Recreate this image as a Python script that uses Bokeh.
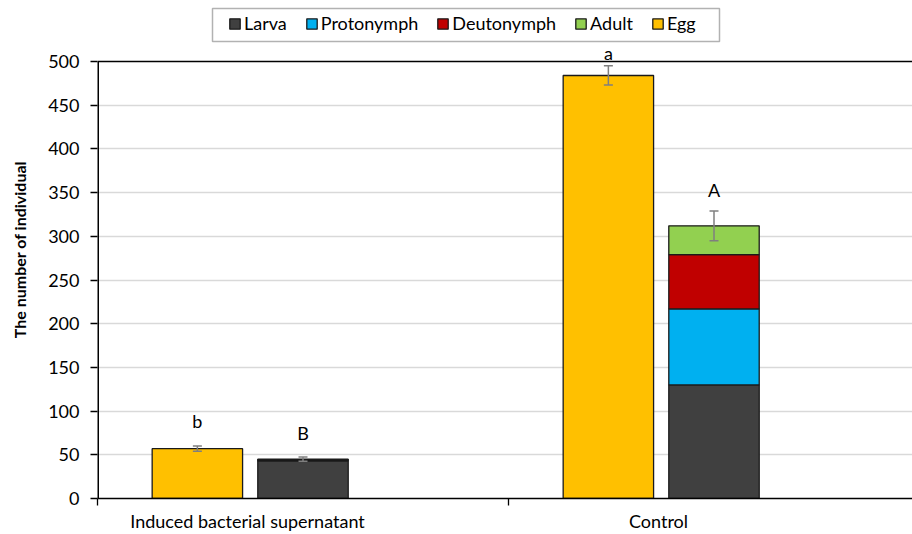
from bokeh.plotting import figure
from bokeh.models import (ColumnDataSource, Whisker, Label, Legend, LegendItem,
                          FixedTicker, Span, Range1d, BoxAnnotation)
from bokeh.embed import file_html
from bokeh.resources import INLINE

# ---- data ----
categories = ["Induced bacterial supernatant", "Control"]
egg = [57, 484]
egg_err = [3, 11]
larva = [43, 130]
protonymph = [1, 87]
deutonymph = [0.5, 62]
adult = [0.5, 33]
stage_err = [2.5, 17]
egg_letters = ["b", "a"]
stage_letters = ["B", "A"]
y_ticks = [0, 50, 100, 150, 200, 250, 300, 350, 400, 450, 500]
y_max = 500

# ---- style / layout ----
FONT = "Lato"
FS = "18px"
C_EGG = "#FFC000"
C_LARVA = "#404040"
C_PROTO = "#00B0F0"
C_DEUTO = "#C00000"
C_ADULT = "#92D050"
egg_letter_off = [25, 13]
stage_letter_off = [24, 21]

FRAME_L, FRAME_B, FRAME_W = 97, 498, 815      # frame pixel geometry
PX_PER_CAT = 411.0
PX_PER_Y = 437.0 / y_max
X_END = FRAME_W / PX_PER_CAT
Y_END = FRAME_B / PX_PER_Y

def px_to_x(px):
    return (px - FRAME_L) / PX_PER_CAT

def px_to_y(py):
    return (FRAME_B - py) / PX_PER_Y

idx = list(range(len(categories)))
egg_x = [i + 0.243 for i in idx]
stage_x = [i + 0.5 for i in idx]
label_x = [i + 0.365 for i in idx]
W = 0.22

p = figure(width=912, height=534, output_backend="svg", toolbar_location=None,
           x_range=Range1d(0, X_END), y_range=Range1d(0, Y_END),
           min_border_left=FRAME_L, min_border_right=0, min_border_top=0,
           min_border_bottom=534 - FRAME_B)
p.outline_line_color = None
p.background_fill_color = "white"
p.border_fill_color = "white"

# bars
egg_src = ColumnDataSource(dict(x=egg_x, top=egg, up=[a + b for a, b in zip(egg, egg_err)],
                                lo=[a - b for a, b in zip(egg, egg_err)]))
r_egg = p.vbar(x="x", top="top", width=W, source=egg_src, fill_color=C_EGG,
               line_color="#1a1a1a", line_width=1.3)

stack = dict(x=stage_x, larva=larva, protonymph=protonymph,
             deutonymph=deutonymph, adult=adult)
st_src = ColumnDataSource(stack)
rs = p.vbar_stack(["larva", "protonymph", "deutonymph", "adult"], x="x", width=W,
                  source=st_src, color=[C_LARVA, C_PROTO, C_DEUTO, C_ADULT],
                  line_color="#1a1a1a", line_width=1.3)

tot = [a + b + c + d for a, b, c, d in zip(larva, protonymph, deutonymph, adult)]
st_up = [t + e for t, e in zip(tot, stage_err)]
st2 = ColumnDataSource(dict(x=stage_x, up=st_up,
                            lo=[t - e for t, e in zip(tot, stage_err)]))

for src in (egg_src, st2):
    w = Whisker(base="x", upper="up", lower="lo", source=src, level="overlay",
                line_color="#7f7f7f", line_width=1.5)
    for h in (w.upper_head, w.lower_head):
        h.size = 9
        h.line_color = "#7f7f7f"
        h.line_width = 1.5
    p.add_layout(w)

for xx, yy, t, off in zip(egg_x, egg_src.data["up"], egg_letters, egg_letter_off):
    p.add_layout(Label(x=xx, y=yy, text=t, y_offset=off, text_align="center",
                       text_baseline="middle", text_font=FONT, text_font_size=FS,
                       text_color="black"))
for xx, yy, t, off in zip(stage_x, st_up, stage_letters, stage_letter_off):
    p.add_layout(Label(x=xx, y=yy, text=t, y_offset=off, text_align="center",
                       text_baseline="middle", text_font=FONT, text_font_size=FS,
                       text_color="black"))

# top line at the axis maximum
p.add_layout(Span(location=y_max, dimension="width", line_color="black", line_width=1.5))
# y axis line from 0 to the axis maximum
p.segment(x0=[0], y0=[0], x1=[0], y1=[y_max], line_color="black", line_width=3)

# axes
p.yaxis.ticker = FixedTicker(ticks=y_ticks)
p.yaxis.axis_label = "The number of individual"
p.yaxis.axis_label_text_font = FONT
p.yaxis.axis_label_text_font_style = "bold"
p.yaxis.axis_label_text_font_size = "16px"
p.yaxis.axis_label_text_color = "black"
p.yaxis.axis_label_standoff = 16
p.yaxis.major_label_text_font = FONT
p.yaxis.major_label_text_font_size = FS
p.yaxis.major_label_text_color = "black"
p.yaxis.major_tick_in = 0
p.yaxis.major_tick_out = 7
p.yaxis.minor_tick_line_color = None
p.yaxis.axis_line_color = None
p.yaxis.major_tick_line_color = "black"
p.yaxis.major_tick_line_width = 1.3
p.yaxis.major_label_standoff = 11

p.xaxis.ticker = FixedTicker(ticks=label_x, minor_ticks=[0, 1, 2])
p.xaxis.major_label_overrides = {lx: c for lx, c in zip(label_x, categories)}
p.xaxis.major_tick_line_color = None
p.xaxis.major_tick_out = 0
p.xaxis.minor_tick_in = 0
p.xaxis.minor_tick_out = 7
p.xaxis.minor_tick_line_color = "black"
p.xaxis.minor_tick_line_width = 1.3
p.xaxis.axis_line_color = "black"
p.xaxis.axis_line_width = 1.5
p.xaxis.major_label_text_font = FONT
p.xaxis.major_label_text_font_size = FS
p.xaxis.major_label_text_color = "black"
p.xaxis.major_label_standoff = 4

p.xgrid.grid_line_color = None
p.ygrid.ticker = FixedTicker(ticks=y_ticks[:-1])
p.ygrid.grid_line_color = "#d9d9d9"
p.ygrid.grid_line_width = 1.5

# legend frame (box from pixel layout)
LEG_L, LEG_R, LEG_T, LEG_B = 212, 719, 8, 41
p.add_layout(BoxAnnotation(left=px_to_x(LEG_L), right=px_to_x(LEG_R),
                           top=px_to_y(LEG_T), bottom=px_to_y(LEG_B),
                           fill_color="white", fill_alpha=1.0,
                           line_color="black", line_width=1.5, level="overlay"))

items = [LegendItem(label="Larva", renderers=[rs[0]]),
         LegendItem(label="Protonymph", renderers=[rs[1]]),
         LegendItem(label="Deutonymph", renderers=[rs[2]]),
         LegendItem(label="Adult", renderers=[rs[3]]),
         LegendItem(label="Egg", renderers=[r_egg])]
leg = Legend(items=items, orientation="horizontal",
             location=(232 - 4 - FRAME_L, FRAME_B - LEG_B + 7),
             label_text_font=FONT, label_text_font_size=FS, label_text_color="black",
             glyph_width=13, glyph_height=13, spacing=18, label_standoff=3,
             padding=8, margin=0, border_line_color=None,
             label_height=17, background_fill_alpha=0.0)
p.add_layout(leg)

open("out.html", "w").write(file_html(p, INLINE))
